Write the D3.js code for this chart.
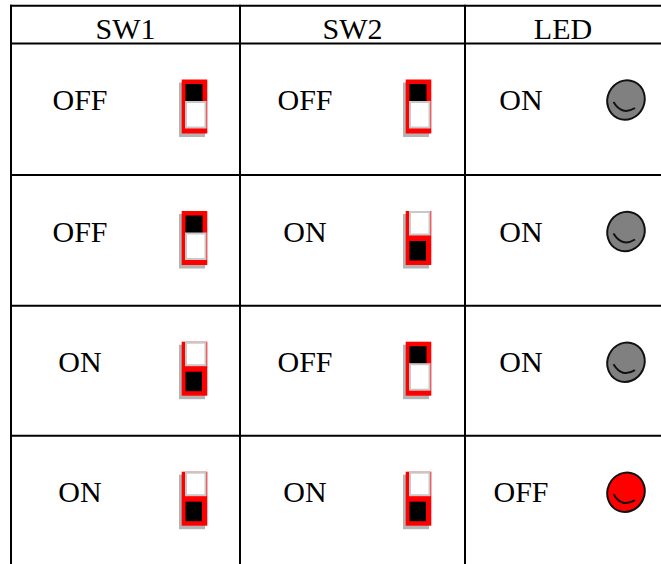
<!DOCTYPE html>
<html>
<head>
<meta charset="utf-8">
<script src="https://cdn.jsdelivr.net/npm/d3@7/dist/d3.min.js"></script>
<style>
  html, body { margin: 0; padding: 0; background: #fff; }
  svg { display: block; }
  text { font-family: "Liberation Serif", "Times New Roman", serif; font-size: 30px; fill: #000; }
</style>
</head>
<body>
<svg id="chart" width="661" height="564"></svg>
<script>
// ---- data ----
const headers = ["SW1", "SW2", "LED"];
const sw1 = ["OFF", "OFF", "ON", "ON"];
const sw2 = ["OFF", "ON", "OFF", "ON"];
const led = ["ON", "ON", "ON", "OFF"];

// ---- layout ----
const W = 661, H = 564;
const svg = d3.select("#chart");
const colX = d3.scaleLinear().domain([0, 1, 2, 3]).range([11, 240, 465, 661]);
const rowY = d3.scaleLinear().domain([0, 1, 2, 3, 4]).range([43.5, 175, 305.7, 435.7, 566.4]);
const headerTop = 5.7;
const textOffset = [69, 65, 56];   // text centre from column left
const iconOffset = [168, 163, 161]; // icon position from column left

const rows = sw1.map((d, i) => ({ i, vals: [sw1[i], sw2[i], led[i]] }));

// ---- grid lines ----
const grid = svg.append("g").attr("stroke", "#000").attr("stroke-width", 2);
[headerTop, ...d3.range(0, 4).map(rowY)].forEach(y => {
  grid.append("line").attr("x1", colX(0) - 1).attr("x2", W).attr("y1", y).attr("y2", y);
});
[0, 1, 2].forEach(c => {
  grid.append("line").attr("x1", colX(c)).attr("x2", colX(c)).attr("y1", headerTop - 1).attr("y2", H);
});

// ---- header ----
svg.append("g").selectAll("text").data(headers).join("text")
  .attr("x", (d, i) => (colX(i) + colX(i + 1)) / 2)
  .attr("y", 38.8)
  .attr("text-anchor", "middle")
  .text(d => d);

// ---- icons ----
function drawSwitch(g, x0, y0, on) {
  g.append("rect").attr("x", x0).attr("y", y0 + 3).attr("width", 26).attr("height", 54.5).attr("fill", "#b4b4b4");
  g.append("rect").attr("x", x0 + 2.7).attr("y", y0).attr("width", 25.6).attr("height", 54).attr("fill", "#ff0000");
  if (!on) {
    g.append("rect").attr("x", x0 + 6.5).attr("y", y0 + 4.5).attr("width", 17).attr("height", 17.5).attr("fill", "#000");
    g.append("rect").attr("x", x0 + 7).attr("y", y0 + 22.5).attr("width", 19.5).attr("height", 25.5)
      .attr("fill", "#fff").attr("stroke", "#c8c8c8").attr("stroke-width", 2);
  } else {
    g.append("rect").attr("x", x0 + 7).attr("y", y0 + 1).attr("width", 19.5).attr("height", 22.5)
      .attr("fill", "#fff").attr("stroke", "#c8c8c8").attr("stroke-width", 2);
    g.append("rect").attr("x", x0 + 6.5).attr("y", y0 + 30).attr("width", 16.5).attr("height", 19.5).attr("fill", "#000");
  }
}

function drawLed(g, cx, cy, on) {
  const fill = on ? "#808080" : "#ff0000";
  g.append("ellipse").attr("cx", cx).attr("cy", cy).attr("rx", 18.5).attr("ry", 20)
    .attr("fill", fill).attr("stroke", "#111").attr("stroke-width", 2)
    .attr("transform", `rotate(25 ${cx} ${cy})`);
  g.append("path")
    .attr("d", `M${cx - 12.5},${cy + 2} Q${cx - 4},${cy + 16} ${cx + 9},${cy + 8}`)
    .attr("fill", "none").attr("stroke", "#111").attr("stroke-width", 2);
}

// ---- rows ----
const rowG = svg.append("g").selectAll("g").data(rows).join("g");
rowG.each(function (r) {
  const g = d3.select(this);
  const top = rowY(r.i);
  r.vals.forEach((v, c) => {
    g.append("text")
      .attr("x", colX(c) + textOffset[c])
      .attr("y", top + 66.7)
      .attr("text-anchor", "middle")
      .text(v);
    if (c < 2) {
      drawSwitch(g, colX(c) + iconOffset[c], top + 36, v === "ON");
    } else {
      drawLed(g, colX(c) + iconOffset[c], top + 56.5, v === "ON");
    }
  });
});
</script>
</body>
</html>
